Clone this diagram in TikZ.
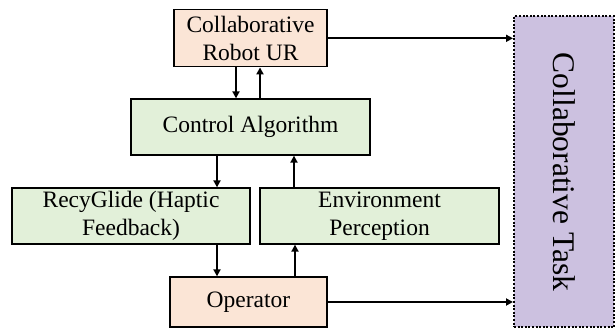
\documentclass[tikz,border=0pt]{standalone}
\usepackage{fontspec}
\setmainfont{Liberation Serif}
\usepackage{tikz}
\usetikzlibrary{arrows.meta,positioning,calc}
\definecolor{peachFill}{RGB}{251,229,214}
\definecolor{sageFill}{RGB}{226,240,217}
\definecolor{lilacFill}{RGB}{204,193,224}

\tikzset{
  blockbox/.style={draw, line width=1.3pt, align=center, inner sep=0pt,
    font=\fontsize{23.5}{28.5}\selectfont},
  flowarr/.style={-{Triangle[length=7pt,width=7pt]}, line width=2.2pt}
}

\begin{document}
\begin{tikzpicture}[x=1pt,y=1pt]
        \useasboundingbox (0,0) rectangle (616,329);
        % blocks
        \node[blockbox, fill=peachFill, minimum width=153pt, minimum height=57pt]
          (robot) at (250.5,290.7) {Collaborative\\Robot UR};
        \node[blockbox, fill=sageFill, minimum width=239pt, minimum height=56pt]
          (ctrl) at (250.5,202) {Control Algorithm};
        \node[blockbox, fill=sageFill, minimum width=238pt, minimum height=56pt]
          (haptic) at (131,113) {RecyGlide (Haptic\\Feedback)};
        \node[blockbox, fill=sageFill, minimum width=239pt, minimum height=56pt]
          (envp) at (379.5,113) {Environment\\Perception};
        \node[blockbox, fill=peachFill, minimum width=157pt, minimum height=50pt]
          (oper) at (248.5,27) {Operator};
        \node[draw, dash pattern=on 2pt off 1.6pt, line width=2pt, fill=lilacFill,
              minimum width=100pt, minimum height=311pt, inner sep=0pt]
          (task) at (564,157) {};
        \node[rotate=-90, font=\fontsize{31.5}{36}\selectfont] (tasklbl)
          at (task.center) {Collaborative Task};
        % connectors
        \draw[flowarr] ([xshift=-14.5pt]robot.south) -- ([xshift=-14.5pt]robot.south |- ctrl.north);
        \draw[flowarr] ([xshift=9.5pt]robot.south |- ctrl.north) -- ([xshift=9.5pt]robot.south);
        \draw[flowarr] ([xshift=-33.5pt]ctrl.south) -- ([xshift=-33.5pt]ctrl.south |- haptic.north);
        \draw[flowarr] ([xshift=43.5pt]ctrl.south |- envp.north) -- ([xshift=43.5pt]ctrl.south);
        \draw[flowarr] ([xshift=86pt]haptic.south) -- ([xshift=86pt]haptic.south |- oper.north);
        \draw[flowarr] ([xshift=46.5pt]oper.north) -- ([xshift=46.5pt]oper.north |- envp.south);
        \draw[flowarr] (robot.east) -- (robot.east -| task.west);
        \draw[flowarr] (oper.east) -- (oper.east -| task.west);
      \end{tikzpicture}
\end{document}
